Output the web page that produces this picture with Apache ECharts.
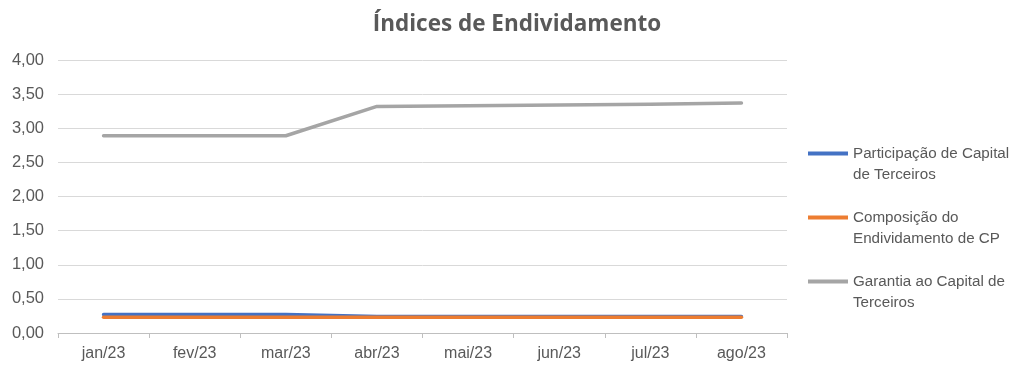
<!DOCTYPE html>
<html>
<head>
<meta charset="utf-8">
<script src="https://cdn.jsdelivr.net/npm/echarts@6/dist/echarts.min.js"></script>
<style>
  html, body { margin: 0; padding: 0; background: #fff; }
  #chart { width: 1013px; height: 368px; }
</style>
</head>
<body>
<div id="chart"></div>
<script>
// Months on the category axis
const months = ['jan/23', 'fev/23', 'mar/23', 'abr/23', 'mai/23', 'jun/23', 'jul/23', 'ago/23'];

// Debt ratios per month
const participacaoCapitalTerceiros = [0.27, 0.27, 0.27, 0.24, 0.24, 0.24, 0.24, 0.24];
const composicaoEndividamentoCP = [0.23, 0.23, 0.23, 0.23, 0.23, 0.23, 0.23, 0.23];
const garantiaCapitalTerceiros = [2.89, 2.89, 2.89, 3.32, 3.33, 3.34, 3.35, 3.37];

const seriesNames = [
  'Participação de Capital\nde Terceiros',
  'Composição do\nEndividamento de CP',
  'Garantia ao Capital de\nTerceiros'
];

const textColor = '#595959';
const font = 'Liberation Sans';

// Legend swatch: a short bar level with the first text line of a two-line label.
// The tiny corner specks keep the icon's box the full item height.
const legendIcon = 'path://M0,0L0.01,0L0,0.01Z M0,8.5L40,8.5L40,12.5L0,12.5Z M40,42L39.99,42L40,41.99Z';

const chart = echarts.init(document.getElementById('chart'));

function lineSeries(name, data, color) {
  return {
    name: name,
    type: 'line',
    data: data,
    symbol: 'none',
    lineStyle: { color: color, width: 3.5, cap: 'round', join: 'round' },
    itemStyle: { color: color },
    emphasis: { disabled: true }
  };
}

chart.setOption({
  animation: false,
  title: {
    text: 'Índices de Endividamento',
    left: 512,
    textAlign: 'center',
    top: 8,
    textStyle: { color: textColor, fontFamily: 'Open Sans', fontWeight: 'bold', fontSize: 22.5 }
  },
  grid: { left: 58, right: 226, top: 60, bottom: 35 },
  legend: {
    orient: 'vertical',
    left: 803,
    top: 138,
    itemGap: 22,
    itemWidth: 40,
    itemHeight: 42,
    icon: legendIcon,
    data: seriesNames,
    textStyle: { color: textColor, fontFamily: font, fontSize: 15.2, lineHeight: 21 },
    itemStyle: { borderWidth: 0 }
  },
  xAxis: {
    type: 'category',
    data: months,
    boundaryGap: true,
    axisLine: { lineStyle: { color: '#bfbfbf', width: 1 } },
    axisTick: { show: true, length: 5, lineStyle: { color: '#bfbfbf' } },
    axisLabel: { color: textColor, fontFamily: font, fontSize: 16, margin: 13 }
  },
  yAxis: {
    type: 'value',
    min: 0,
    max: 4,
    interval: 0.5,
    axisLine: { show: false },
    axisTick: { show: false },
    splitLine: { lineStyle: { color: '#d9d9d9', width: 1 } },
    axisLabel: {
      color: textColor, fontFamily: font, fontSize: 16.5, margin: 14,
      formatter: v => v.toFixed(2).replace('.', ',')
    }
  },
  series: [
    lineSeries(seriesNames[0], participacaoCapitalTerceiros, '#4472C4'),
    lineSeries(seriesNames[1], composicaoEndividamentoCP, '#ED7D31'),
    lineSeries(seriesNames[2], garantiaCapitalTerceiros, '#A5A5A5')
  ]
});
</script>
</body>
</html>
